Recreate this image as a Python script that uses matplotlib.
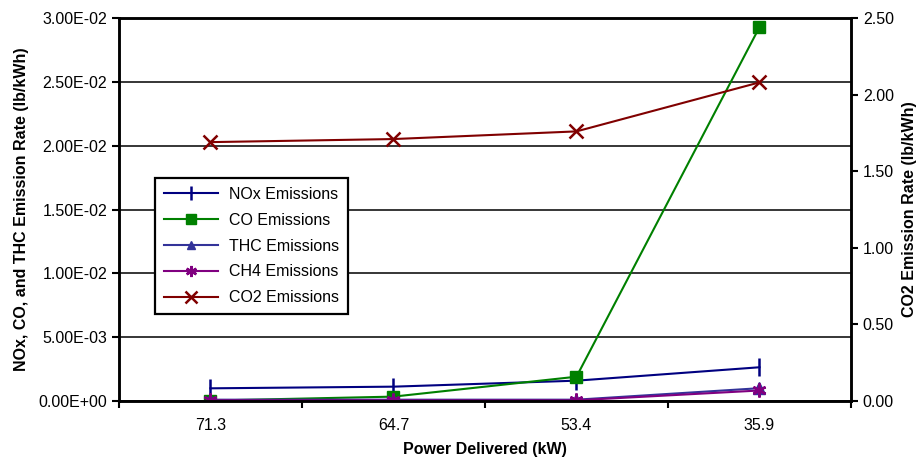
import matplotlib.pyplot as plt
import numpy as np
from matplotlib.ticker import FuncFormatter, FixedLocator

plt.rcParams['font.family'] = ['Liberation Sans', 'DejaVu Sans']

power = ["71.3", "64.7", "53.4", "35.9"]
nox = [0.00099, 0.00112, 0.00159, 0.00264]
co = [0.00003, 0.00034, 0.00190, 0.02929]
thc = [0.00010, 0.00010, 0.00010, 0.00100]
ch4 = [0.00005, 0.00005, 0.00005, 0.00082]
co2 = [1.69, 1.71, 1.76, 2.08]

x = np.arange(len(power))

fig = plt.figure(figsize=(9.22, 4.63), dpi=100)
ax = fig.add_axes([0.129, 0.134, 0.794, 0.827])
ax2 = ax.twinx()

ax.yaxis.grid(True, color='black', linewidth=1.1)
ax.set_axisbelow(True)

l1, = ax.plot(x, nox, color='#000080', lw=1.5, marker='|', ms=13, mew=1.8, label='NOx Emissions')
l2, = ax.plot(x, co, color='#008000', lw=1.5, marker='s', ms=9, label='CO Emissions')
l3, = ax.plot(x, thc, color='#333399', lw=1.5, marker='^', ms=8, label='THC Emissions')
l4, = ax.plot(x, ch4, color='#800080', lw=1.5, marker=(6, 2, 0), ms=10, mew=1.8, label='CH4 Emissions')
l5, = ax2.plot(x, co2, color='#800000', lw=1.5, marker='x', ms=10, mew=1.8, label='CO2 Emissions')

ax.set_xlim(-0.5, 3.5)
ax.set_ylim(0, 0.03)
ax.set_yticks(np.arange(0, 0.0301, 0.005))
ax.yaxis.set_major_formatter(FuncFormatter(lambda v, p: "%.2E" % v))
ax2.set_ylim(0, 2.5)
ax2.set_yticks(np.arange(0, 2.51, 0.5))
ax2.yaxis.set_major_formatter(FuncFormatter(lambda v, p: "%.2f" % v))

ax.xaxis.set_major_locator(FixedLocator([-0.5, 0.5, 1.5, 2.5, 3.5]))
ax.xaxis.set_major_formatter(FuncFormatter(lambda v, p: ""))
ax.xaxis.set_minor_locator(FixedLocator(x))
ax.set_xticklabels(power, minor=True)
ax.tick_params(axis='x', which='minor', length=0, pad=12, labelsize=11.5)
ax.tick_params(axis='x', which='major', length=5, width=1.5, direction='out')
ax.tick_params(axis='y', length=5, width=1.5, direction='out', labelsize=11.5)
ax2.tick_params(axis='y', length=5, width=1.5, direction='out', labelsize=11.5)

for a in (ax, ax2):
    for s in a.spines.values():
        s.set_linewidth(1.8)
        s.set_color('black')

ax.set_xlabel("Power Delivered (kW)", fontsize=11.5, fontweight='bold', labelpad=7)
ax.set_ylabel("NOx, CO, and THC Emission Rate (lb/kWh)", fontsize=11.5, fontweight='bold', labelpad=7)
ax2.set_ylabel("CO2 Emission Rate (lb/kWh)", fontsize=11.5, fontweight='bold', labelpad=6)

leg = ax2.legend(handles=[l1, l2, l3, l4, l5], loc='upper left', bbox_to_anchor=(0.049, 0.582),
                 borderaxespad=0, fontsize=11.5, frameon=True, fancybox=False, framealpha=1,
                 edgecolor='black', handlelength=3.4, labelspacing=0.68, borderpad=0.55,
                 markerscale=0.8, handletextpad=0.7)
leg.get_frame().set_linewidth(1.6)

fig.savefig("out.png", dpi=100)
